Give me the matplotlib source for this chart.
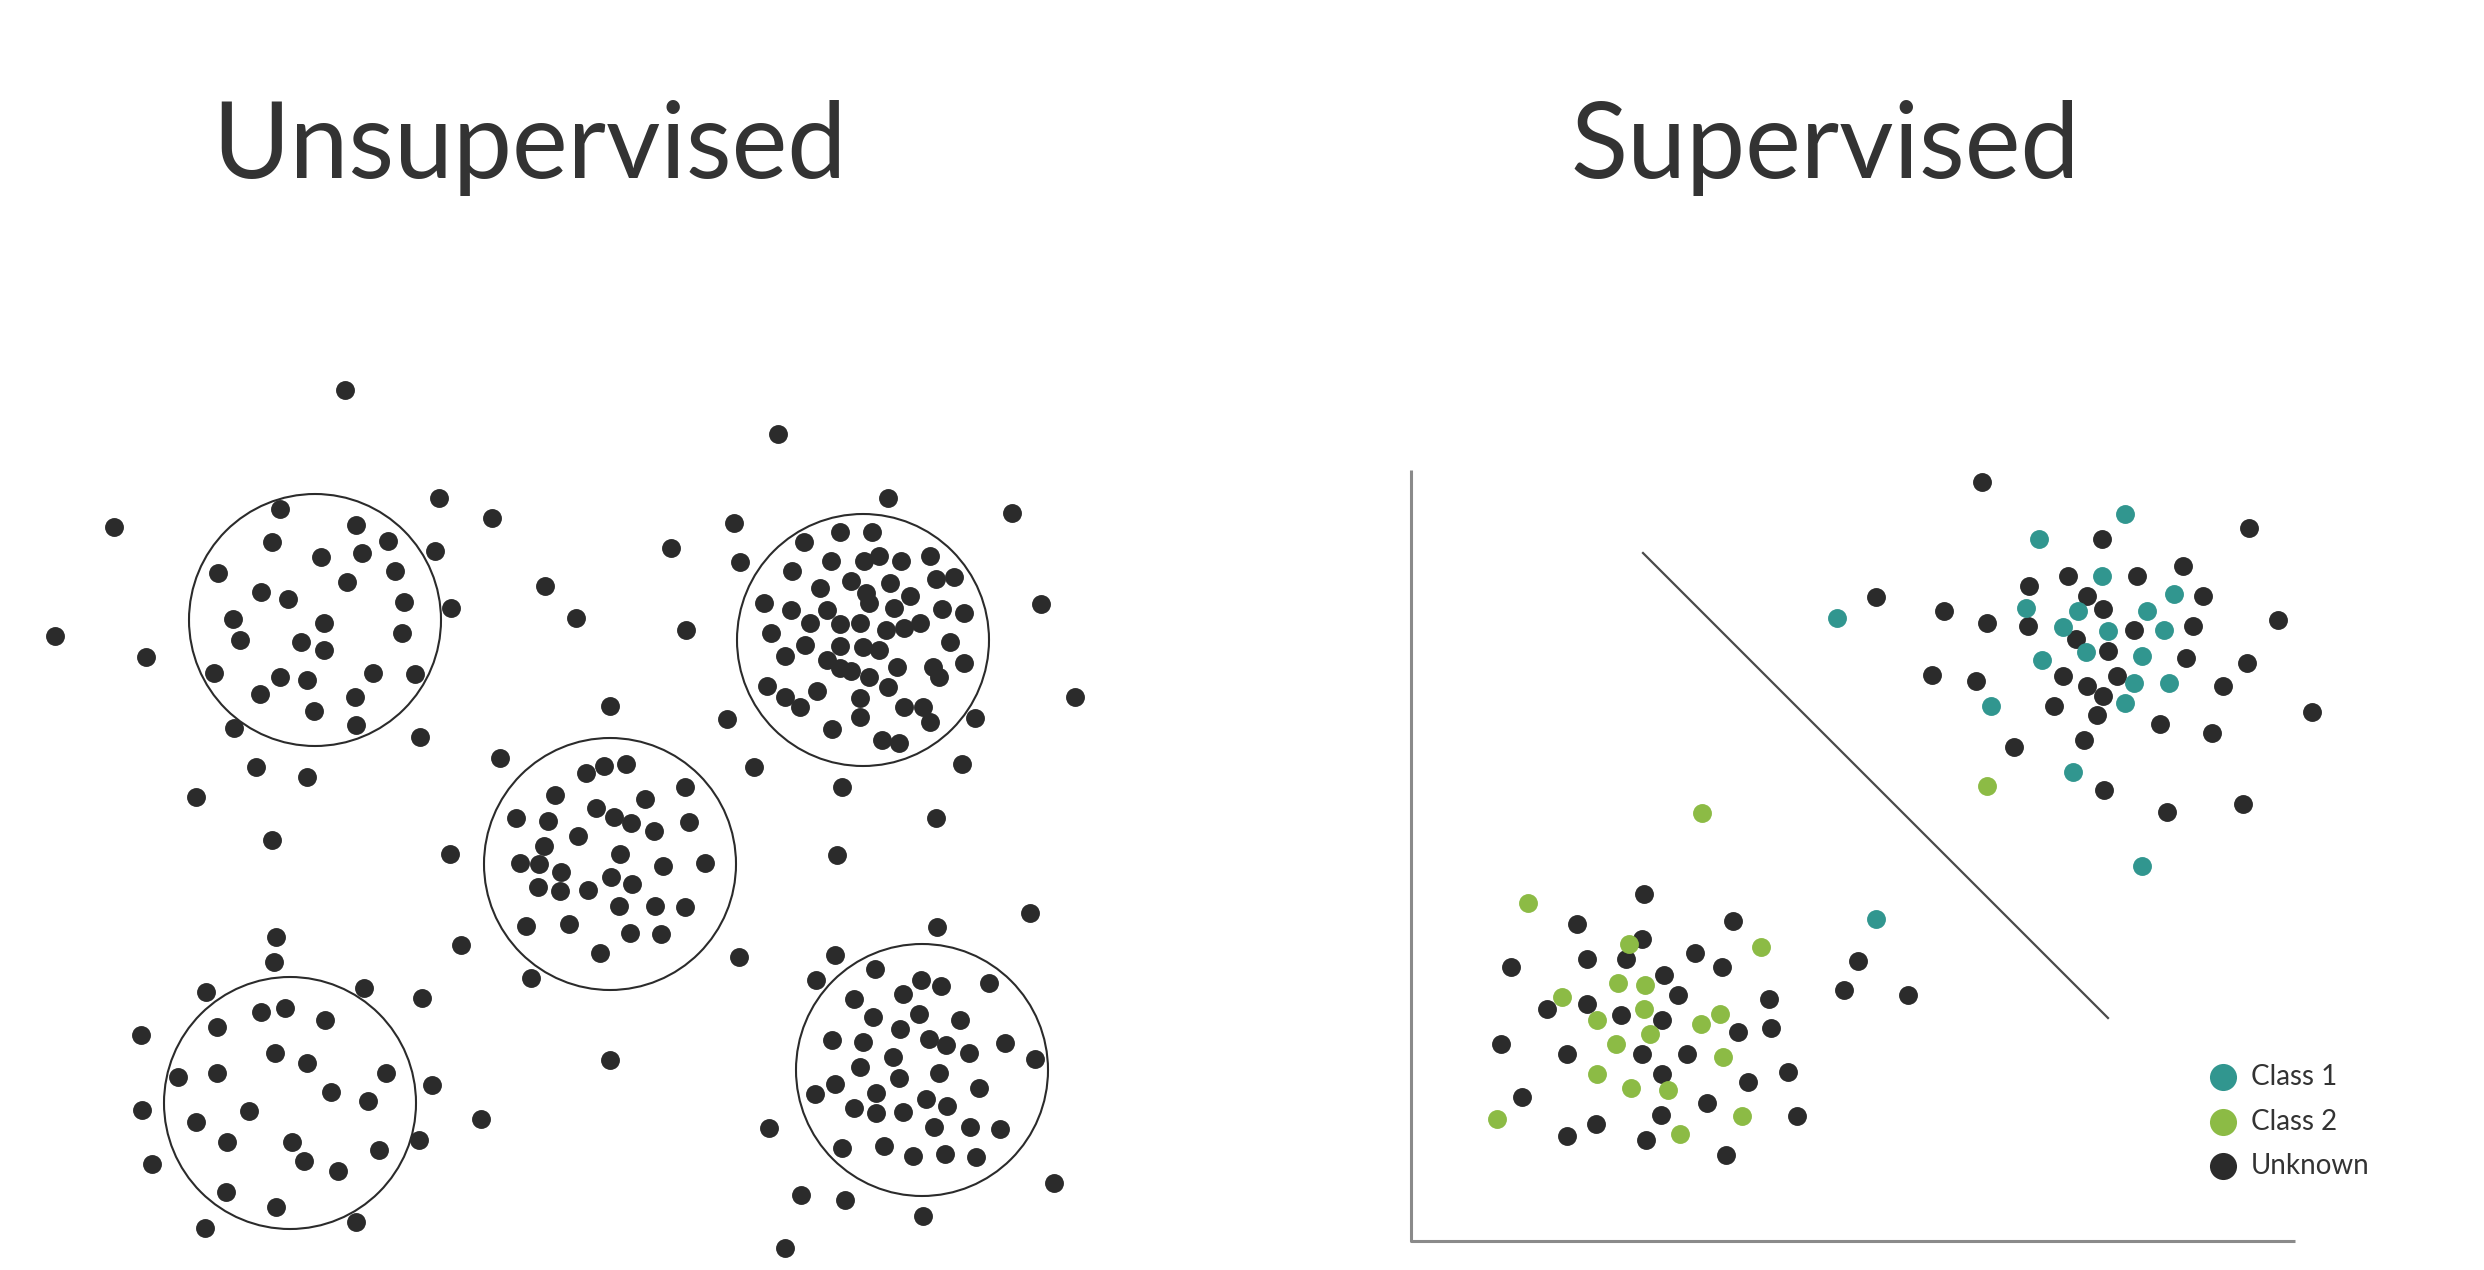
import numpy as np
import matplotlib.pyplot as plt
from matplotlib.patches import Circle

# Canvas is laid out in pixel units of the 2484 x 1270 picture (y grows downward)
W, H = 2484, 1270

# Titles
titles = ["Unsupervised", "Supervised"]
title_x = [529, 1825]

# Left panel: unlabelled points
unsup = np.array([
    (345, 390), (114, 527), (439, 498), (492, 518), (280, 509), (356, 525), (272, 542),
    (388, 541), (435, 551), (321, 557), (362, 553), (218, 573), (395, 571), (347, 582),
    (545, 586), (261, 592), (288, 599), (404, 602), (451, 608), (233, 619), (324, 623),
    (55, 636), (240, 640), (301, 642), (402, 633), (324, 650), (146, 657),
    (214, 673), (280, 677), (307, 680), (373, 673), (415, 674), (260, 694), (355, 697),
    (314, 711), (234, 728), (356, 725), (420, 737), (500, 758), (256, 767), (307, 777),
    (196, 797), (272, 840), (450, 854), (276, 937), (274, 962), (461, 945),
    (555, 795), (516, 818), (548, 821), (544, 846), (520, 863), (539, 864), (538, 887),
    (526, 926),
    (778, 434), (888, 498), (1012, 513), (734, 523), (671, 548), (740, 562), (576, 618),
    (686, 630), (1041, 604),
    (840, 532), (872, 532), (804, 542), (831, 561), (864, 561), (879, 556), (901, 561),
    (930, 556), (792, 571), (851, 581), (890, 583), (936, 579), (954, 577), (820, 588),
    (866, 593), (869, 603), (910, 596), (764, 603), (791, 610), (827, 610), (894, 608),
    (942, 609), (964, 613), (810, 623), (840, 624), (860, 623), (886, 630), (904, 628),
    (920, 623), (771, 633), (805, 645), (840, 646), (863, 647), (879, 650), (950, 642),
    (785, 656), (827, 660),
    (840, 668), (851, 671), (897, 667), (933, 667), (939, 677), (964, 663), (767, 686),
    (785, 697), (800, 707), (817, 691), (869, 677), (888, 687), (860, 698), (860, 717),
    (904, 707), (923, 707), (930, 722), (832, 729), (882, 740), (899, 743), (975, 718),
    (1075, 697), (610, 706), (727, 719), (754, 767), (962, 764), (842, 787), (936, 818),
    (837, 855), (1030, 913), (937, 927), (739, 957), (835, 955),
    (586, 773), (604, 766), (626, 764), (685, 787), (596, 808), (645, 799), (614, 817),
    (631, 823), (689, 822), (654, 831), (578, 836), (620, 854), (663, 866), (705, 863),
    (561, 872), (611, 877), (632, 884), (560, 891), (588, 890), (619, 906), (655, 906),
    (685, 907), (569, 924), (630, 933), (661, 934), (600, 953), (610, 1060),
    (816, 980), (875, 969), (921, 980), (941, 986), (989, 983), (854, 999), (903, 994),
    (873, 1017), (919, 1014), (960, 1020), (900, 1029), (832, 1040), (863, 1042),
    (929, 1039), (946, 1045), (969, 1053), (1005, 1043), (1035, 1059), (893, 1057),
    (860, 1067), (939, 1073), (899, 1078), (835, 1084), (815, 1094), (876, 1093),
    (979, 1088), (926, 1099), (947, 1106), (854, 1108), (876, 1113), (903, 1112),
    (934, 1127), (970, 1127), (1000, 1129), (842, 1148), (884, 1146), (913, 1156),
    (945, 1154), (976, 1157),
    (769, 1128), (1054, 1183), (801, 1195), (845, 1200), (923, 1216), (785, 1248),
    (531, 978), (206, 992), (364, 988), (422, 998), (141, 1035), (261, 1012), (285, 1008),
    (217, 1027), (325, 1020), (275, 1053), (307, 1063), (178, 1077), (217, 1073),
    (386, 1073), (432, 1085), (331, 1092), (368, 1101), (142, 1110), (249, 1111),
    (196, 1122), (481, 1119), (227, 1142), (292, 1142), (419, 1140), (304, 1161),
    (379, 1150), (338, 1171), (152, 1164), (226, 1192), (276, 1207), (356, 1222),
    (205, 1228),
])

# Cluster rings
ring_x = [315, 863, 610, 922, 290]
ring_y = [620, 640, 864, 1070, 1103]
ring_r = 126

# Right panel: labelled points
class1 = np.array([
    (1837, 618), (2125, 514), (2039, 539), (2102, 576), (2174, 594), (2026, 608),
    (2078, 611), (2147, 611), (2063, 627), (2108, 631), (2164, 630), (2086, 652),
    (2142, 656), (2042, 660), (2134, 683), (2169, 683), (2125, 703), (1991, 706),
    (2073, 772), (2142, 866), (1876, 919),
])
class2 = np.array([
    (1702, 813), (1987, 786),
    (1528, 903), (1629, 944), (1761, 947), (1618, 983), (1645, 985), (1562, 997),
    (1644, 1009), (1597, 1020), (1720, 1014), (1701, 1024), (1650, 1034), (1616, 1044),
    (1723, 1057), (1597, 1074), (1631, 1088), (1668, 1090), (1742, 1116), (1497, 1119),
    (1680, 1134),
])
unknown = np.array([
    (1876, 597), (1982, 482), (2102, 539), (2249, 528), (2183, 566), (2068, 576),
    (2137, 576), (2029, 586), (2087, 596), (2203, 596), (1944, 611), (1987, 623),
    (2028, 626), (2103, 609), (2134, 630), (2193, 626), (2278, 620), (2076, 639),
    (2108, 651), (2186, 658), (2247, 663), (1932, 675), (1976, 681), (2063, 676),
    (2117, 676), (2087, 686), (2103, 696), (2223, 686), (2054, 706), (2097, 715),
    (2312, 712), (2160, 724), (2212, 733), (2014, 747), (2084, 740), (2104, 790),
    (2167, 812), (2243, 804),
    (1644, 894), (1577, 924), (1733, 921), (1642, 939), (1511, 967), (1587, 959),
    (1626, 959), (1695, 953), (1722, 967), (1664, 975), (1678, 995), (1547, 1009),
    (1587, 1004), (1621, 1015), (1662, 1020), (1769, 999), (1771, 1028), (1738, 1032),
    (1501, 1044), (1567, 1054), (1642, 1054), (1687, 1054), (1662, 1074), (1788, 1072),
    (1748, 1082), (1522, 1097), (1707, 1103), (1661, 1115), (1797, 1116), (1596, 1124),
    (1567, 1136), (1646, 1140), (1726, 1155),
    (1858, 961), (1844, 990), (1908, 995),
])

# Decision boundary and axes of the right panel
boundary_x = [1643, 2108]
boundary_y = [553, 1018]
axis_x = [1411, 1411, 2295]
axis_y = [470, 1241, 1241]

legend_labels = ["Class 1", "Class 2", "Unknown"]
legend_y = [1077, 1122, 1166]

dark = "#2b2b2b"
teal = "#31968f"
green = "#8cbb45"
text_col = "#333333"

fig = plt.figure(figsize=(W / 100, H / 100), dpi=100)
ax = fig.add_axes([0, 0, 1, 1])
ax.set_xlim(0, W)
ax.set_ylim(H, 0)
ax.axis("off")

for tx, t in zip(title_x, titles):
    ax.text(tx, 178, t, ha="center", va="baseline", fontsize=76,
            family="Lato", color=text_col)

# Left panel
ax.scatter(unsup[:, 0], unsup[:, 1], s=185, color=dark, lw=0, zorder=3)
for cx, cy in zip(ring_x, ring_y):
    ax.add_patch(Circle((cx, cy), ring_r, fill=False, ec=dark, lw=1.5, zorder=2))

# Right panel
ax.plot(axis_x, axis_y, color="#8a8a8a", lw=2.2, solid_capstyle="butt")
ax.plot(boundary_x, boundary_y, color="#4a4a4a", lw=1.6)
ax.scatter(unknown[:, 0], unknown[:, 1], s=185, color=dark, lw=0, zorder=3)
ax.scatter(class1[:, 0], class1[:, 1], s=185, color=teal, lw=0, zorder=4)
ax.scatter(class2[:, 0], class2[:, 1], s=185, color=green, lw=0, zorder=4)

# Legend
for lab, ly, c in zip(legend_labels, legend_y, [teal, green, dark]):
    ax.scatter([2223], [ly], s=380, color=c, lw=0, zorder=4)
    ax.text(2251, ly, lab, ha="left", va="center", fontsize=20,
            family="Lato", color=text_col)

fig.savefig("out.png", dpi=100)
